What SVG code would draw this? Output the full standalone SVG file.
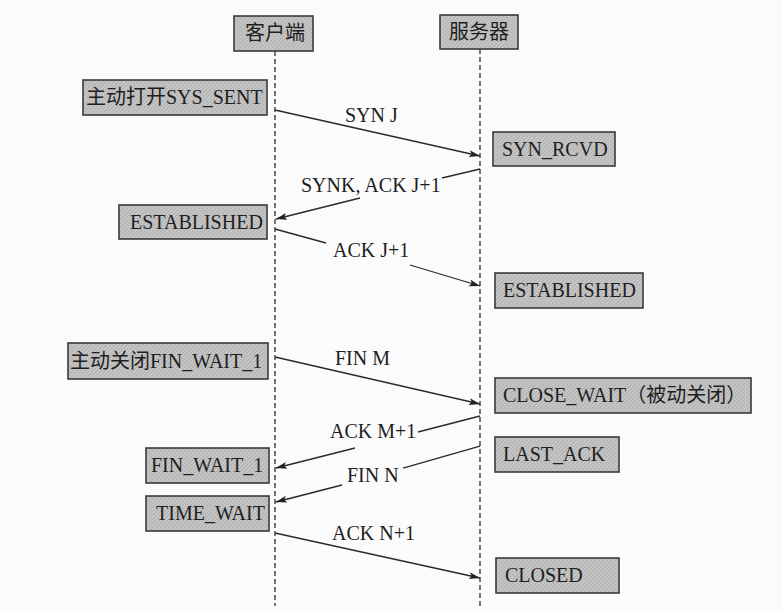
<svg xmlns="http://www.w3.org/2000/svg" width="782" height="610" viewBox="0 0 782 610">
<defs>
<style>
.box{fill:url(#hatch);stroke:#3a3a3a;stroke-width:1.6}
.t{font-family:"Liberation Serif","Times New Roman","Noto Sans CJK SC",serif;font-size:20px;fill:#1e1e1e}
.life{stroke:#2e2e2e;stroke-width:1.3;stroke-dasharray:5 3;fill:none}
.msg{stroke:#2a2a2a;stroke-width:1.3;fill:none}
</style>
<pattern id="hatch" width="4" height="4" patternUnits="userSpaceOnUse">
<rect width="4" height="4" fill="#c3c3c3"/>
<path d="M0,4 L4,0 M-1,1 L1,-1 M3,5 L5,3" stroke="#b0b0b0" stroke-width="1"/>
</pattern>
<marker id="arr" markerWidth="12" markerHeight="8" refX="11" refY="4" orient="auto" markerUnits="userSpaceOnUse">
<path d="M0,0.5 L11,4 L0,7.5 L2.5,4 z" fill="#222"/>
</marker>
</defs>
<rect width="782" height="610" fill="#fbfbfb"/>

<g id="lifelines">
<line class="life" x1="275" y1="51" x2="275" y2="606"/>
<line class="life" x1="480" y1="49" x2="480" y2="606"/>
</g>

<g id="client"><rect class="box" x="234" y="16" width="79" height="35"/><text class="t" x="245" y="40">客户端</text></g>
<g id="server"><rect class="box" x="440" y="15" width="78" height="34"/><text class="t" x="449" y="39">服务器</text></g>

<g id="c_syn_sent"><rect class="box" x="83" y="80" width="184" height="35"/><text class="t" x="86" y="104">主动打开SYS_SENT</text></g>
<g id="s_syn_rcvd"><rect class="box" x="493" y="132" width="122" height="34"/><text class="t" x="502" y="156">SYN_RCVD</text></g>
<g id="c_established"><rect class="box" x="119" y="205" width="148" height="34"/><text class="t" x="130" y="229">ESTABLISHED</text></g>
<g id="s_established"><rect class="box" x="495" y="273" width="148" height="35"/><text class="t" x="503" y="297">ESTABLISHED</text></g>
<g id="c_fin_wait_1a"><rect class="box" x="68" y="343" width="200" height="36"/><text class="t" x="70" y="368">主动关闭FIN_WAIT_1</text></g>
<g id="s_close_wait"><rect class="box" x="495" y="378" width="256" height="35"/><text class="t" x="503" y="402">CLOSE_WAIT（被动关闭）</text></g>
<g id="s_last_ack"><rect class="box" x="495" y="437" width="124" height="35"/><text class="t" x="503" y="461">LAST_ACK</text></g>
<g id="c_fin_wait_1b"><rect class="box" x="146" y="448" width="123" height="35"/><text class="t" x="151" y="472">FIN_WAIT_1</text></g>
<g id="c_time_wait"><rect class="box" x="146" y="496" width="123" height="35"/><text class="t" x="156" y="520">TIME_WAIT</text></g>
<g id="s_closed"><rect class="box" x="496" y="558" width="123" height="35"/><text class="t" x="505" y="582">CLOSED</text></g>

<g id="connectors">
<line class="msg" x1="275" y1="110" x2="480" y2="156" marker-end="url(#arr)"/>
<text class="t" x="345" y="122">SYN J</text>

<line class="msg" x1="480" y1="169" x2="442" y2="178"/>
<line class="msg" x1="360" y1="198" x2="276" y2="219" marker-end="url(#arr)"/>
<text class="t" x="301" y="192">SYNK, ACK J+1</text>

<line class="msg" x1="275" y1="229" x2="326" y2="243"/>
<line class="msg" x1="410" y1="265" x2="480" y2="286" marker-end="url(#arr)"/>
<text class="t" x="333" y="257">ACK J+1</text>

<line class="msg" x1="275" y1="357" x2="480" y2="404" marker-end="url(#arr)"/>
<text class="t" x="335" y="365">FIN M</text>

<line class="msg" x1="480" y1="416" x2="418" y2="432"/>
<line class="msg" x1="355" y1="448" x2="276" y2="468" marker-end="url(#arr)"/>
<text class="t" x="330" y="438">ACK M+1</text>

<line class="msg" x1="480" y1="446" x2="403" y2="468"/>
<line class="msg" x1="342" y1="485" x2="276" y2="502" marker-end="url(#arr)"/>
<text class="t" x="347" y="482">FIN N</text>

<line class="msg" x1="275" y1="533" x2="480" y2="578" marker-end="url(#arr)"/>
<text class="t" x="332" y="540">ACK N+1</text>
</g>
</svg>
